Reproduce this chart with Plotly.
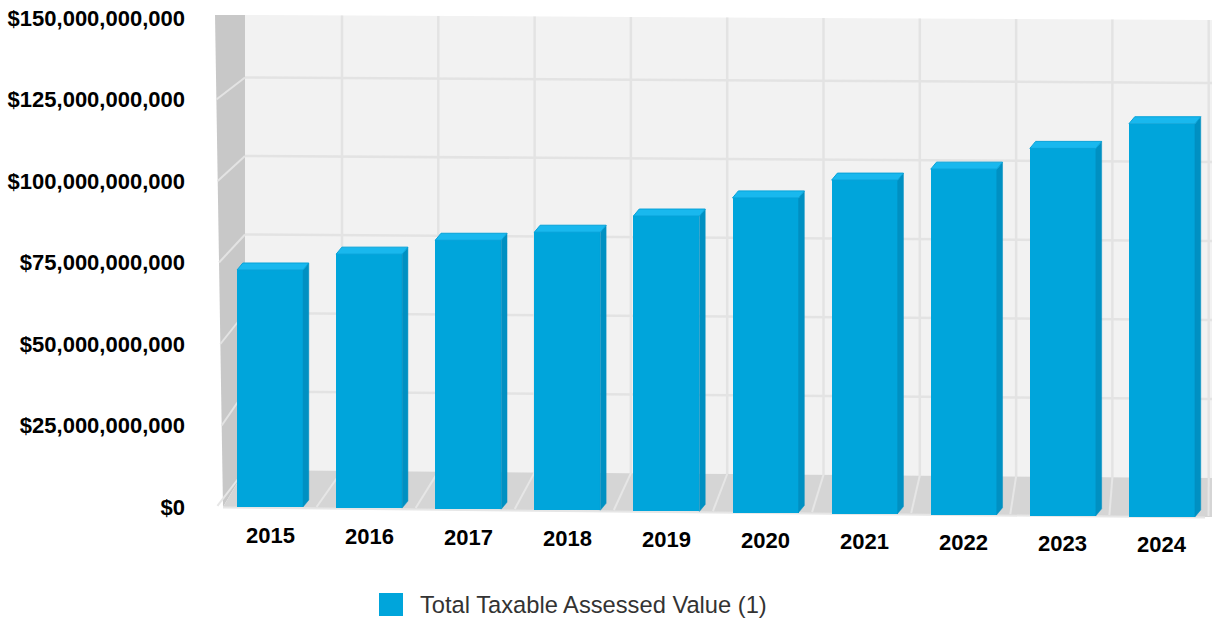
import plotly.graph_objects as go

# ---- data -------------------------------------------------------------
years = ["2015", "2016", "2017", "2018", "2019", "2020", "2021", "2022", "2023", "2024"]
assessed_values = [72.7e9, 77.9e9, 82.5e9, 85.3e9, 90.6e9, 96.5e9, 102.3e9, 106.0e9, 112.7e9, 120.6e9]
series_name = "Total Taxable Assessed Value (1)"
ytick_vals = [0, 25e9, 50e9, 75e9, 100e9, 125e9, 150e9]
ytick_text = ["$0", "$25,000,000,000", "$50,000,000,000", "$75,000,000,000",
              "$100,000,000,000", "$125,000,000,000", "$150,000,000,000"]

# ---- geometry / style -------------------------------------------------
W, H = 1212, 622
PLOT_L, PLOT_R, PLOT_T, PLOT_B = 215, 1212, 18, 520
Y0_PX = 507                      # pixel row of the zero line
Y_MAX = 150e9
PX_PER_Y = (Y0_PX - PLOT_T) / Y_MAX
Y_MIN = -(PLOT_B - Y0_PX) / PX_PER_Y
X_RANGE = [-0.555, 9.505]
PX_PER_X = (PLOT_R - PLOT_L) / (X_RANGE[1] - X_RANGE[0])

BAR_W = 0.666
DEPTH_X = 5.8 / PX_PER_X         # bar depth shift, data units
DEPTH_Y = 7.0 / PX_PER_Y
TILT_PX = 1.1                    # floor drops a little toward the right

FRONT = "#00A5DB"
TOP = "#19B8EE"
TOP_EDGE = "#07A2D8"
SIDE = "#0090C2"
BACK_WALL = "#F2F2F2"
GRID = "#E3E3E3"
SIDE_WALL = "#C8C8C8"
FLOOR = "#D5D5D5"
FLOOR_LINE = "#E6E6E6"
FONT = "Liberation Sans, Arial, sans-serif"


def pxx(x):
    return (x - PLOT_L) / (PLOT_R - PLOT_L)


def pxy(y):
    return (PLOT_B - y) / (PLOT_B - PLOT_T)


def path(points):
    return "M " + " L ".join(f"{pxx(x):.5f},{pxy(y):.5f}" for x, y in points) + " Z"


n = len(years)
xs = list(range(n))
bases = [-(TILT_PX * i) / PX_PER_Y for i in xs]
tops = [b + v for b, v in zip(bases, assessed_values)]

fig = go.Figure()

fig.add_trace(go.Bar(
    x=xs, y=assessed_values, base=bases, width=BAR_W,
    marker=dict(color=FRONT, line=dict(width=0)),
    name=series_name, showlegend=False, hoverinfo="skip",
))

# side and top faces of each bar
side_x, side_y, top_x, top_y = [], [], [], []
for x, b, t in zip(xs, bases, tops):
    xl, xr = x - BAR_W / 2, x + BAR_W / 2
    side_x += [xr, xr, xr + DEPTH_X, xr + DEPTH_X, xr, None]
    side_y += [b, t, t + DEPTH_Y, b + DEPTH_Y, b, None]
    top_x += [xl, xr, xr + DEPTH_X, xl + DEPTH_X, xl, None]
    top_y += [t, t, t + DEPTH_Y, t + DEPTH_Y, t, None]

fig.add_trace(go.Scatter(
    x=side_x, y=side_y, mode="lines", fill="toself", fillcolor=SIDE,
    line=dict(color=SIDE, width=0.5), showlegend=False, hoverinfo="skip",
))
fig.add_trace(go.Scatter(
    x=top_x, y=top_y, mode="lines", fill="toself", fillcolor=TOP,
    line=dict(color=TOP_EDGE, width=1), showlegend=False, hoverinfo="skip",
))

# ---- walls and floor --------------------------------------------------
shapes = []
BACK_L, BACK_TOP_L, BACK_TOP_R, BACK_BOT_L, BACK_BOT_R = 245, 15, 20, 470, 478


def back_top(x):
    return BACK_TOP_L + (BACK_TOP_R - BACK_TOP_L) * (x - BACK_L) / (W - BACK_L)


def back_bot(x):
    return BACK_BOT_L + (BACK_BOT_R - BACK_BOT_L) * (x - BACK_L) / (W - BACK_L)


def front_bot(x):
    return Y0_PX + 10 * (x - 223) / 977


shapes.append(dict(type="path", path=path([(BACK_L, BACK_TOP_L), (W, BACK_TOP_R),
                                            (W, BACK_BOT_R), (BACK_L, BACK_BOT_L)]),
                   xref="paper", yref="paper", fillcolor=BACK_WALL, line=dict(width=0), layer="below"))

# horizontal lines on the back wall
back_step = 78.5
for k in range(1, 6):
    yl = BACK_BOT_L - back_step * k
    yr = yl + 5 + 3 * (yl - BACK_TOP_L) / (BACK_BOT_L - BACK_TOP_L)
    shapes.append(dict(type="line", xref="paper", yref="paper",
                       x0=pxx(BACK_L), y0=pxy(yl), x1=pxx(W), y1=pxy(yr),
                       line=dict(color=GRID, width=2.5), layer="below"))

# vertical lines on the back wall
back_cols = [342 + 96.3 * k for k in range(10)]
for x in back_cols:
    shapes.append(dict(type="line", xref="paper", yref="paper",
                       x0=pxx(x), y0=pxy(back_top(x)), x1=pxx(x), y1=pxy(back_bot(x)),
                       line=dict(color=GRID, width=2.5), layer="below"))

# left wall
shapes.append(dict(type="path", path=path([(215, 15), (BACK_L, 15), (BACK_L, BACK_BOT_L), (223, Y0_PX)]),
                   xref="paper", yref="paper", fillcolor=SIDE_WALL, line=dict(width=0), layer="below"))
for k in range(1, 6):
    yf = Y0_PX - 81.5 * k
    xf = 215 + 8 * (yf - 15) / (Y0_PX - 15)
    yb = BACK_BOT_L - back_step * k
    shapes.append(dict(type="line", xref="paper", yref="paper",
                       x0=pxx(xf), y0=pxy(yf), x1=pxx(BACK_L), y1=pxy(yb),
                       line=dict(color=GRID, width=2), layer="below"))

# floor
shapes.append(dict(type="path", path=path([(223, Y0_PX), (BACK_L, BACK_BOT_L), (W, BACK_BOT_R),
                                            (W, front_bot(W)), (1205, front_bot(1205))]),
                   xref="paper", yref="paper", fillcolor=FLOOR, line=dict(width=0), layer="below"))
front_cols = [270 + PX_PER_X * (k - 0.5) for k in range(11)]
for xb, xf in zip([BACK_L] + back_cols, front_cols):
    xf = min(xf, W)
    shapes.append(dict(type="line", xref="paper", yref="paper",
                       x0=pxx(xb), y0=pxy(back_bot(xb)), x1=pxx(xf - 3), y1=pxy(front_bot(xf) - 1),
                       line=dict(color=FLOOR_LINE, width=2), layer="below"))
shapes.append(dict(type="line", xref="paper", yref="paper",
                   x0=pxx(223), y0=pxy(Y0_PX + 0.5), x1=pxx(1205), y1=pxy(front_bot(1205) + 0.5),
                   line=dict(color=FLOOR_LINE, width=2), layer="below"))

# legend swatch
shapes.append(dict(type="rect", xref="paper", yref="paper",
                   x0=pxx(379), y0=pxy(616), x1=pxx(403), y1=pxy(593),
                   fillcolor=FRONT, line=dict(width=0), layer="above"))

annotations = []
for i, yr in enumerate(years):
    annotations.append(dict(x=i, y=0, xref="x", yref="y", text=yr, showarrow=False,
                            yanchor="middle", xanchor="center", yshift=-(28 + TILT_PX * i),
                            font=dict(family=FONT, size=22, color="#000000", weight="bold")))
annotations.append(dict(x=pxx(418), y=pxy(605), xref="paper", yref="paper", text=series_name,
                        showarrow=False, xanchor="left", yanchor="middle",
                        font=dict(family=FONT, size=23.7, color="#333333")))

fig.update_layout(
    width=W, height=H,
    margin=dict(l=PLOT_L, r=W - PLOT_R, t=PLOT_T, b=H - PLOT_B),
    paper_bgcolor="white", plot_bgcolor="rgba(0,0,0,0)",
    shapes=shapes, annotations=annotations,
    showlegend=False, bargap=0,
    xaxis=dict(range=X_RANGE, showgrid=False, zeroline=False, showticklabels=False,
               showline=False, fixedrange=True),
    yaxis=dict(range=[Y_MIN, Y_MAX], tickvals=ytick_vals, ticktext=ytick_text,
               showgrid=False, zeroline=False, showline=False, ticks="",
               ticklabelstandoff=29,
               tickfont=dict(family=FONT, size=22, color="#000000", weight="bold"),
               fixedrange=True),
)

fig.write_html("out.html")
